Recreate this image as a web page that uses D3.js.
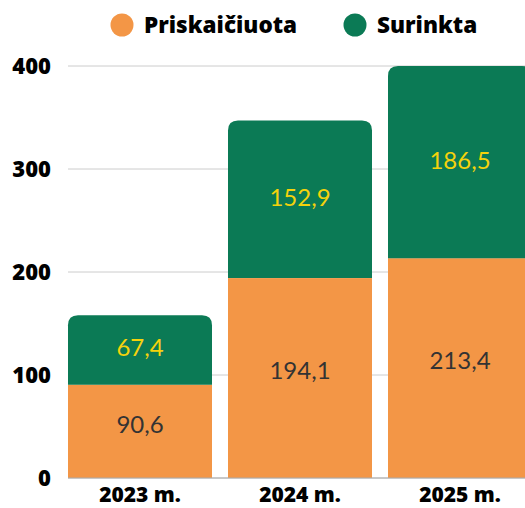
<!DOCTYPE html>
<html><head><meta charset="utf-8">
<script src="https://cdn.jsdelivr.net/npm/d3@7"></script>
<style>body{margin:0;background:#fff}svg{display:block}</style>
</head><body>
<script>
const categories = ["2023 m.", "2024 m.", "2025 m."];
const seriesNames = ["Priskaičiuota", "Surinkta"];
const calculated = [90.6, 194.1, 213.4];
const collected = [67.4, 152.9, 186.5];
const yTicks = [0, 100, 200, 300, 400];
const colors = ["#F39646", "#0B7A55"];
const labelColors = ["#333333", "#F5D20C"];

const W = 525, H = 508;
const svg = d3.select("body").append("svg").attr("width", W).attr("height", H);
const x = d3.scaleBand().domain(categories).range([68, 532]).paddingInner(0.1).paddingOuter(0);
const y = d3.scaleLinear().domain([0, 400]).range([478, 66]);

const grid = svg.append("g");
grid.selectAll("line").data(yTicks).join("line")
  .attr("x1", 68).attr("x2", W).attr("y1", d => y(d)).attr("y2", d => y(d))
  .attr("stroke", "#cccccc").attr("stroke-width", 1);

svg.append("g").selectAll("text").data(yTicks).join("text")
  .attr("x", 51).attr("y", d => y(d)).attr("dy", "0.35em")
  .attr("text-anchor", "end").attr("font-family", "Open Sans").attr("font-weight", 800)
  .attr("font-size", 22).attr("fill", "#000").text(d => d);

const data = categories.map((c, i) => ({c, a: calculated[i], b: collected[i]}));
const r = 10;
const bw = x.bandwidth();
svg.append("g").selectAll("rect").data(data).join("rect")
  .attr("x", d => x(d.c)).attr("width", bw)
  .attr("y", d => y(d.a)).attr("height", d => y(0) - y(d.a)).attr("fill", colors[0]);
svg.append("g").selectAll("path").data(data).join("path")
  .attr("fill", colors[1])
  .attr("d", d => {
    const x0 = x(d.c), x1 = x0 + bw, yt = y(d.a + d.b), yb = y(d.a);
    return `M${x0},${yb}V${yt + r}Q${x0},${yt} ${x0 + r},${yt}H${x1 - r}Q${x1},${yt} ${x1},${yt + r}V${yb}Z`;
  });

svg.append("line").attr("x1", 68).attr("x2", W).attr("y1", y(0)).attr("y2", y(0))
  .attr("stroke", "#aaaaaa").attr("stroke-width", 1);

const lab = svg.append("g").attr("font-family", "Lato").attr("font-size", 24).attr("text-anchor", "middle");
lab.selectAll("text.a").data(data).join("text").attr("class", "a")
  .attr("x", d => x(d.c) + bw / 2).attr("y", d => (y(0) + y(d.a)) / 2 - 7).attr("dy", "0.35em")
  .attr("fill", labelColors[0]).text(d => d3.format(".1f")(d.a).replace(".", ","));
lab.selectAll("text.b").data(data).join("text").attr("class", "b")
  .attr("x", d => x(d.c) + bw / 2).attr("y", d => (y(d.a) + y(d.a + d.b)) / 2 - 2).attr("dy", "0.35em")
  .attr("fill", labelColors[1]).text(d => d3.format(".1f")(d.b).replace(".", ","));

svg.append("g").selectAll("text").data(categories).join("text")
  .attr("x", d => x(d) + bw / 2).attr("y", 502)
  .attr("text-anchor", "middle").attr("font-family", "Open Sans").attr("font-weight", 800)
  .attr("font-size", 21).attr("fill", "#000").text(d => d);

const leg = svg.append("g");
const legPos = [[122, 144], [355, 377]];
seriesNames.forEach((s, i) => {
  leg.append("circle").attr("cx", legPos[i][0]).attr("cy", 25).attr("r", 11.5).attr("fill", colors[i]);
  leg.append("text").attr("x", legPos[i][1]).attr("y", 25).attr("dy", "0.35em")
    .attr("font-family", "Open Sans").attr("font-weight", 800).attr("font-size", 22.5)
    .attr("fill", "#000").text(s);
});
</script>
</body></html>
